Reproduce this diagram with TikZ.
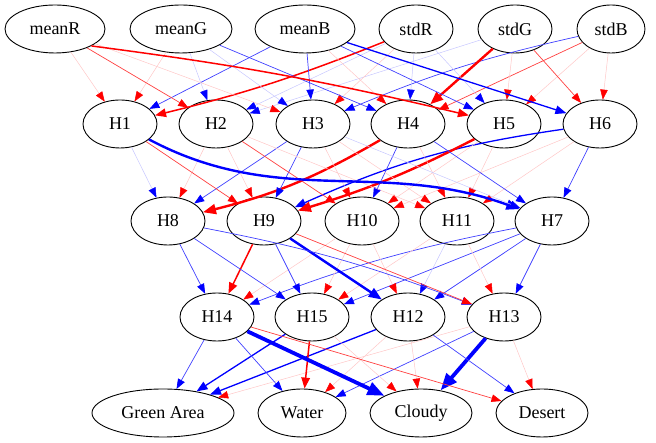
\documentclass[tikz,border=0pt]{standalone}
\usepackage{fontspec}
\setmainfont{Liberation Serif}
\usetikzlibrary{shapes.geometric,arrows.meta}

\tikzset{
  unit/.style={draw, ellipse, line width=0.9pt, inner sep=0pt, minimum width=74pt, minimum height=48pt, font=\fontsize{18}{20}\selectfont},
  pos0/.style={draw=blue!22, line width=0.5pt, -{Triangle[length=10pt,width=7.5pt,color=blue]}},
  pos1/.style={draw=blue!75, line width=0.7pt, -{Triangle[length=10pt,width=7.5pt,color=blue]}},
  pos2/.style={draw=blue, line width=1.3pt, -{Triangle[length=11pt,width=8.5pt,color=blue]}},
  pos3/.style={draw=blue, line width=2.4pt, -{Triangle[length=13pt,width=10pt,color=blue]}},
  pos4/.style={draw=blue, line width=3.8pt, -{Triangle[length=17pt,width=13pt,color=blue]}},
  neg0/.style={draw=red!22, line width=0.5pt, -{Triangle[length=10pt,width=7.5pt,color=red]}},
  neg1/.style={draw=red!75, line width=0.7pt, -{Triangle[length=10pt,width=7.5pt,color=red]}},
  neg2/.style={draw=red, line width=1.5pt, -{Triangle[length=11pt,width=8.5pt,color=red]}},
  neg3/.style={draw=red, line width=2.4pt, -{Triangle[length=13pt,width=10pt,color=red]}},
}

\begin{document}
\begin{tikzpicture}[x=1pt,y=1pt]
\useasboundingbox (0,0) rectangle (656,443);
% inputs
\node [unit, minimum width=100pt] (meanR) at (55,414) {meanR};
\node [unit, minimum width=102pt] (meanG) at (181,414) {meanG};
\node [unit, minimum width=100pt] (meanB) at (305,414) {meanB};
\node [unit] (stdR) at (416,414) {stdR};
\node [unit] (stdG) at (515,414) {stdG};
\node [unit, minimum width=68pt] (stdB) at (611,414) {stdB};
% hidden
\node [unit] (H1) at (120,319) {H1};
\node [unit] (H2) at (216,319) {H2};
\node [unit] (H3) at (313,319) {H3};
\node [unit] (H4) at (408,319) {H4};
\node [unit] (H5) at (504,319) {H5};
\node [unit] (H6) at (600,319) {H6};
\node [unit] (H8) at (168,222) {H8};
\node [unit] (H9) at (264,222) {H9};
\node [unit] (H10) at (362,222) {H10};
\node [unit] (H11) at (457,222) {H11};
\node [unit] (H7) at (552,222) {H7};
\node [unit] (H14) at (217,126) {H14};
\node [unit] (H15) at (312,126) {H15};
\node [unit] (H12) at (408,126) {H12};
\node [unit] (H13) at (504,126) {H13};
% outputs
\node [unit, minimum width=142pt] (green) at (163,30) {Green Area};
\node [unit, minimum width=88pt] (water) at (302,30) {Water};
\node [unit, minimum width=102pt] (cloudy) at (421,30) {Cloudy};
\node [unit, minimum width=92pt] (desert) at (542,30) {Desert};

% inputs -> first row
\draw [neg0] (meanR) -- (H1);
\draw [neg0] (meanG) -- (H1);
\draw [pos1] (meanB) -- (H1);
\draw [neg2] (stdR) to[bend left=4] (H1);
\draw [neg1] (meanR) -- (H2);
\draw [pos0] (meanG) -- (H2);
\draw [pos0] (stdR) -- (H2);
\draw [pos0] (stdG) -- (H2);
\draw [neg0] (meanR) -- (H3);
\draw [pos0] (meanG) -- (H3);
\draw [pos1] (meanB) -- (H3);
\draw [neg0] (stdR) -- (H3);
\draw [pos1] (stdB) to[bend right=5] (H3);
\draw [pos1] (meanG) -- (H4);
\draw [neg0] (meanB) -- (H4);
\draw [pos0] (stdR) -- (H4);
\draw [neg3] (stdG) -- (H4);
\draw [neg1] (stdB) -- (H4);
\draw [neg2] (meanR.-25) to[bend left=3] (H5);
\draw [pos1] (meanB) -- (H5);
\draw [pos0] (stdR) -- (H5);
\draw [neg0] (stdG) -- (H5);
\draw [neg0] (stdB) -- (H5);
\draw [pos2] (meanB) -- (H6);
\draw [neg1] (stdG) -- (H6);
\draw [neg0] (stdB) -- (H6);

% first row -> second row
\draw [pos0] (H1) -- (H8);
\draw [neg0] (H2) -- (H8);
\draw [pos1] (H3) -- (H8);
\draw [neg3] (H4) to[bend left=8] (H8);
\draw [neg1] (H1) -- (H9);
\draw [neg0] (H2) -- (H9);
\draw [pos1] (H3) -- (H9);
\draw [pos2] (H6) to[bend right=8] (H9);
\draw [neg3] (H5) to[bend left=5] (H9);
\draw [neg1] (H2) -- (H10);
\draw [neg0] (H3) -- (H10);
\draw [pos1] (H4) -- (H10);
\draw [neg0] (H5) -- (H10);
\draw [neg0] (H6) -- (H10);
\draw [neg0] (H2) -- (H11);
\draw [neg0] (H3) -- (H11);
\draw [neg0] (H4) -- (H11);
\draw [neg0] (H5) -- (H11);
\draw [neg0] (H6) -- (H11);
\draw [pos3] (H1) to[out=-28,in=160] (H7);
\draw [pos1] (H4) -- (H7);
\draw [pos0] (H3) -- (H7);
\draw [pos1] (H6) -- (H7);

% second row -> third row
\draw [pos1] (H8) -- (H14);
\draw [neg2] (H9) -- (H14);
\draw [neg0] (H10) -- (H14);
\draw [pos1] (H7) to[bend right=5] (H14);
\draw [pos1] (H8) -- (H15);
\draw [pos1] (H9) -- (H15);
\draw [neg0] (H10) -- (H15);
\draw [neg0] (H11) -- (H15);
\draw [pos1] (H7) -- (H15);
\draw [pos3] (H9) -- (H12);
\draw [neg0] (H10) -- (H12);
\draw [pos0] (H11) -- (H12);
\draw [pos1] (H7) -- (H12);
\draw [pos1] (H8) to[bend left=5] (H13);
\draw [neg1] (H9) -- (H13);
\draw [neg0] (H11) -- (H13);
\draw [pos1] (H7) -- (H13);

% third row -> outputs
\draw [pos1] (H14) -- (green);
\draw [pos2] (H15) -- (green);
\draw [pos2] (H12) -- (green);
\draw [neg0] (H13) -- (green);
\draw [pos1] (H14) -- (water);
\draw [neg2] (H15) -- (water);
\draw [neg0] (H12) -- (water);
\draw [pos1] (H13) -- (water);
\draw [pos4] (H14) -- (cloudy);
\draw [neg0] (H15) -- (cloudy);
\draw [neg0] (H12) -- (cloudy);
\draw [pos4] (H13) -- (cloudy);
\draw [neg1] (H14) -- (desert);
\draw [pos1] (H12) -- (desert);
\draw [neg0] (H13) -- (desert);
\end{tikzpicture}
\end{document}
